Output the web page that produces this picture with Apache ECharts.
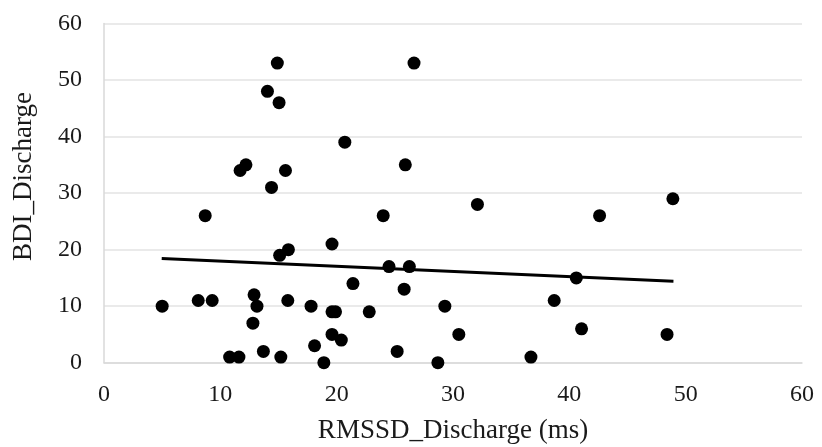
<!DOCTYPE html>
<html>
<head>
<meta charset="utf-8">
<script src="https://cdn.jsdelivr.net/npm/echarts@6/dist/echarts.min.js"></script>
<style>
  html, body { margin: 0; padding: 0; background: #fff; }
  #main { width: 822px; height: 447px; }
</style>
</head>
<body>
<div id="main"></div>
<script>
// RMSSD_Discharge (ms) values
const rmssd = [5, 8.1, 9.3, 8.7, 11.7, 12.2, 14.05, 14.9, 15.05, 15.6,
  14.4, 20.7, 12.9, 13.15, 12.8, 10.8, 11.6, 13.7, 15.2, 15.1,
  15.85, 15.8, 17.8, 19.6, 19.6, 19.9, 19.6, 20.4, 18.1, 18.9,
  21.4, 26.65, 25.9, 32.1, 24, 24.5, 26.25, 25.8, 22.8, 29.3,
  30.5, 25.2, 28.7, 36.7, 38.7, 40.6, 41.05, 48.9, 42.6, 48.4]
// BDI_Discharge values
const bdi = [10, 11, 11, 26, 34, 35, 48, 53, 46, 34,
  31, 39, 12, 10, 7, 1, 1, 2, 1, 19,
  20, 11, 10, 21, 9, 9, 5, 4, 3, 0,
  14, 53, 35, 28, 26, 17, 17, 13, 9, 10,
  5, 2, 0, 1, 11, 15, 6, 29, 26, 5]
// linear trendline ends
const trendX = [4.96, 48.95]
const trendY = [18.45, 14.4]

const points = rmssd.map((x, i) => [x, bdi[i]])
const trend = trendX.map((x, i) => [x, trendY[i]])

const chart = echarts.init(document.getElementById('main'))
const font = 'Liberation Serif, Times New Roman, serif'

chart.setOption({
  animation: false,
  grid: { left: 104, right: 20, top: 23.5, bottom: 84.3, outerBoundsMode: 'none', containLabel: false },
  xAxis: {
    type: 'value',
    min: 0, max: 60, interval: 10,
    name: 'RMSSD_Discharge (ms)',
    nameLocation: 'middle',
    nameGap: 55,
    nameTextStyle: { fontFamily: font, fontSize: 27, color: '#1a1a1a' },
    axisLine: { show: true, lineStyle: { color: '#d9d9d9', width: 1.5 } },
    axisTick: { show: false },
    splitLine: { show: false },
    axisLabel: { fontFamily: font, fontSize: 24, color: '#1a1a1a', margin: 20 }
  },
  yAxis: {
    type: 'value',
    min: 0, max: 60, interval: 10,
    name: 'BDI_Discharge',
    nameLocation: 'middle',
    nameGap: 67,
    nameTextStyle: { fontFamily: font, fontSize: 27, color: '#1a1a1a', padding: [0, 0, 0, 33] },
    axisLine: { show: true, lineStyle: { color: '#d9d9d9', width: 1.5 } },
    axisTick: { show: false },
    splitLine: { lineStyle: { color: '#e3e3e3', width: 1.5 } },
    axisLabel: { fontFamily: font, fontSize: 24, color: '#1a1a1a', margin: 22 }
  },
  series: [
    {
      type: 'scatter',
      data: points,
      symbol: 'circle',
      symbolSize: 13,
      itemStyle: { color: '#000', opacity: 1 }
    },
    {
      type: 'line',
      data: trend,
      symbol: 'none',
      lineStyle: { color: '#000', width: 3 },
      z: 1
    }
  ]
})
</script>
</body>
</html>
